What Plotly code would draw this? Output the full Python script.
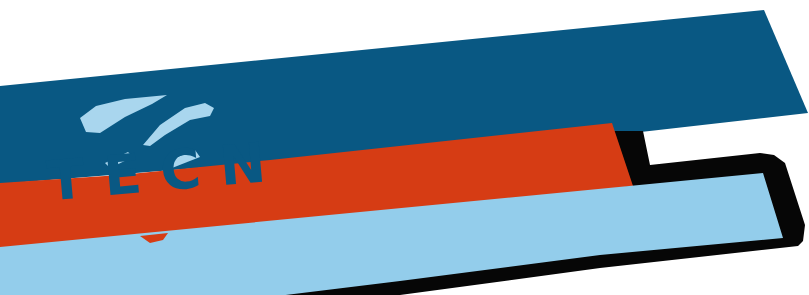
import plotly.graph_objects as go

# ---- data: polygon outlines of the banner pieces (pixel space) ----
dark_band_x = [0, 764, 808, 632, 0]
dark_band_y = [86, 10, 113, 133, 184]

outline_x = [612, 643, 650, 760, 774, 785, 805, 803, 798, 600, 400, 0, 0, 612]
outline_y = [131, 131, 165, 153, 155, 163, 225, 241, 246, 268, 295, 350, 280, 190]

red_band_x = [0, 120, 270, 612, 633, 0]
red_band_y = [183, 175, 160, 123, 186, 262]

light_band_x = [0, 763, 783, 600, 400, 0]
light_band_y = [247, 173, 238, 255, 281, 330]

red_bump_x = [140, 150, 163, 168]
red_bump_y = [236, 243, 240, 233]

swoosh_a_x = [80, 96, 125, 167, 152, 125, 100, 86]
swoosh_a_y = [118, 106, 99, 95, 104, 117, 133, 132]

swoosh_b_x = [143, 160, 185, 205, 214, 210, 190, 165, 150]
swoosh_b_y = [145, 125, 108, 103, 108, 116, 120, 135, 146]

piece_1_x = [105, 128, 133, 110]
piece_1_y = [163, 152, 157, 168]
piece_2_x = [168, 195, 200, 172]
piece_2_y = [161, 150, 157, 168]

logo_text = "T E C N"

DARK = "#095883"
RED = "#d63c14"
LIGHT = "#93cdeb"
LOGO_LIGHT = "#a9d6ee"
BLACK = "#060606"

fig = go.Figure()

def poly(xs, ys, color):
    fig.add_trace(go.Scatter(x=xs, y=ys, mode="lines", fill="toself",
                             fillcolor=color, line=dict(width=0, color=color),
                             hoverinfo="skip", showlegend=False))

poly(dark_band_x, dark_band_y, DARK)
poly(outline_x, outline_y, BLACK)
poly(red_band_x, red_band_y, RED)
poly(light_band_x, light_band_y, LIGHT)
poly(red_bump_x, red_bump_y, RED)
poly(swoosh_a_x, swoosh_a_y, LOGO_LIGHT)
poly(swoosh_b_x, swoosh_b_y, LOGO_LIGHT)

fig.add_annotation(x=156, y=172, text="<b>" + logo_text + "</b>", showarrow=False,
                   textangle=-5, font=dict(family="DejaVu Sans", size=55, color=DARK),
                   xanchor="center", yanchor="middle")

poly(piece_1_x, piece_1_y, LOGO_LIGHT)
poly(piece_2_x, piece_2_y, LOGO_LIGHT)

fig.update_layout(
    width=809, height=295,
    margin=dict(l=0, r=0, t=0, b=0),
    paper_bgcolor="white", plot_bgcolor="white",
    xaxis=dict(range=[0, 809], visible=False, fixedrange=True),
    yaxis=dict(range=[295, 0], visible=False, fixedrange=True),
    showlegend=False,
)

fig.write_html("out.html", config={"displayModeBar": False, "staticPlot": True},
               post_script="document.body.style.margin='0';")
